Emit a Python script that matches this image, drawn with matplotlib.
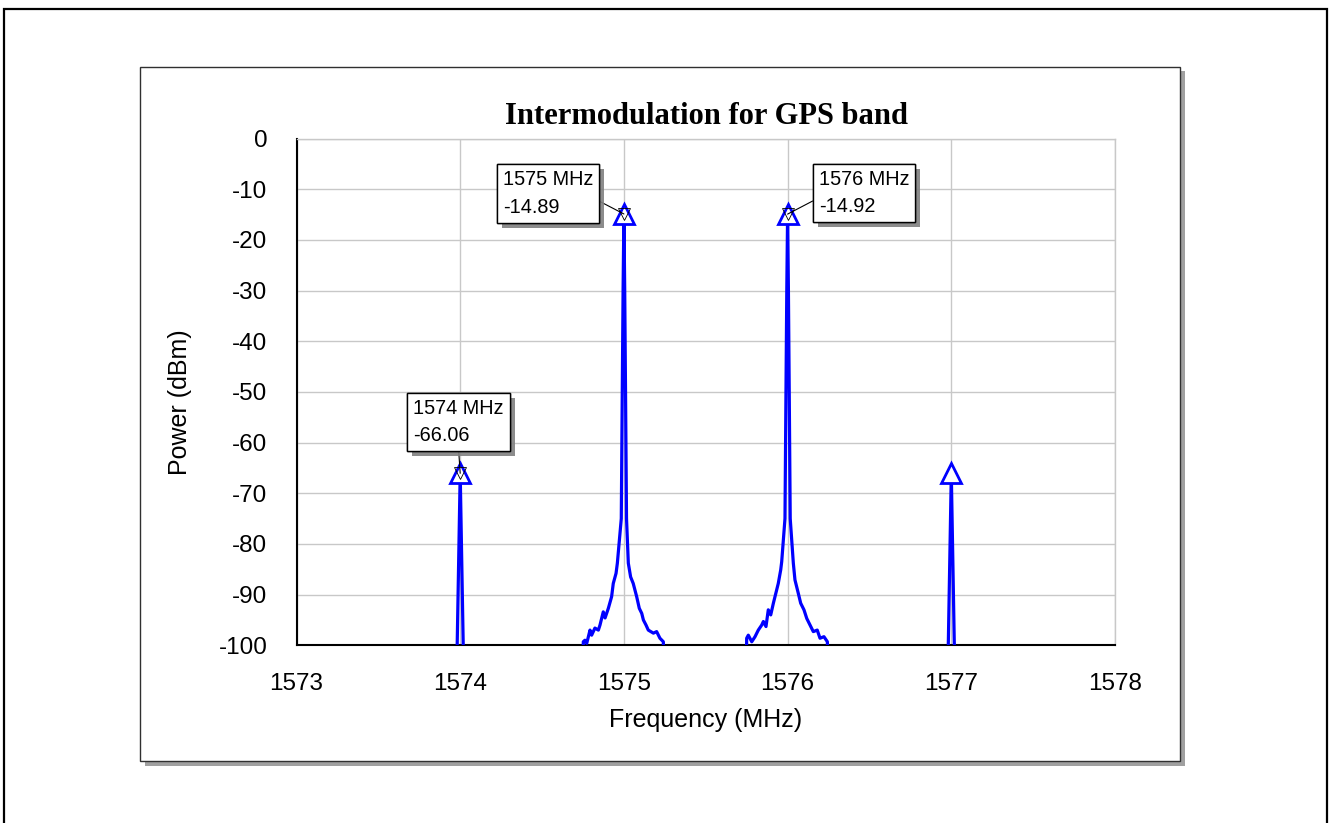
""" GPS band intermodulation spectrum """

import matplotlib.pyplot as plt
import matplotlib.patheffects as pe
from matplotlib.patches import Rectangle

# spectrum trace (MHz, dBm) - floor sits below the visible -100 dBm
freq = [1573.000, 1573.020, 1573.975, 1573.981, 1574.000, 1574.019, 1574.025,
        1574.740, 1574.752, 1574.762, 1574.773, 1574.793, 1574.803, 1574.823,
        1574.844, 1574.854, 1574.874, 1574.885, 1574.905, 1574.925, 1574.935,
        1574.952, 1574.960, 1574.984, 1574.990, 1574.995, 1575.000, 1575.005,
        1575.010, 1575.016, 1575.027, 1575.041, 1575.057, 1575.078, 1575.094,
        1575.109, 1575.119, 1575.135, 1575.149, 1575.180, 1575.200, 1575.220,
        1575.241, 1575.252,
        1575.738, 1575.750, 1575.760, 1575.781, 1575.801, 1575.821, 1575.842,
        1575.852, 1575.868, 1575.882, 1575.897, 1575.913, 1575.933, 1575.943,
        1575.958, 1575.964, 1575.984, 1575.990, 1575.995, 1576.000, 1576.005,
        1576.010, 1576.016, 1576.035, 1576.045, 1576.065, 1576.080, 1576.100,
        1576.117, 1576.137, 1576.157, 1576.181, 1576.198, 1576.222, 1576.243,
        1576.255,
        1576.975, 1576.981, 1577.000, 1577.019, 1577.025, 1577.980, 1578.000]
power = [-100.5, -140.0, -140.0, -101.0, -66.06, -101.0, -140.0,
         -140.0, -99.3, -99.0, -99.6, -97.0, -98.0, -96.6,
         -97.0, -96.0, -93.4, -94.6, -92.7, -90.4, -87.8,
         -85.8, -83.8, -75.0, -50.0, -30.0, -14.89, -30.0,
         -50.0, -75.0, -83.8, -86.5, -87.8, -90.4, -92.7,
         -93.7, -95.0, -96.0, -97.0, -97.6, -97.3, -98.6,
         -99.3, -140.0,
         -140.0, -98.6, -98.0, -99.3, -98.3, -97.0, -96.0,
         -95.3, -96.3, -93.0, -94.0, -91.7, -89.1, -87.8,
         -85.1, -83.5, -75.0, -50.0, -30.0, -14.92, -30.0,
         -50.0, -75.0, -83.8, -87.1, -89.7, -91.7, -93.0,
         -94.7, -96.0, -97.3, -97.0, -98.6, -98.3, -99.3,
         -140.0,
         -140.0, -101.0, -66.1, -101.0, -140.0, -140.0, -100.5]

# marker peaks
peak_freq = [1574, 1575, 1576, 1577]
peak_power = [-66.06, -14.89, -14.92, -66.1]

# labelled markers: (freq, power, text x, text y, line anchor on box)
label_freq = [1574, 1575, 1576]
label_power = [-66.06, -14.89, -14.92]
label_text = ['1574 MHz\n-66.06', '1575 MHz\n-14.89', '1576 MHz\n-14.92']
label_x = [1573.712, 1574.262, 1576.192]
label_y = [-51.4, -6.3, -6.2]
label_rel = [(0.5, 0.0), (1.0, 0.4), (0.0, 0.4)]

W, H = 1330, 823

plt.rcParams['font.family'] = ['Liberation Sans', 'DejaVu Sans']
plt.rcParams['axes.unicode_minus'] = False

fig = plt.figure(figsize=(W / 100, H / 100), dpi=100)
fig.patch.set_facecolor('white')

# outer frame
fig.add_artist(Rectangle((4 / W, -0.05), (1327 - 4) / W, 1.05 - 9 / H,
                         transform=fig.transFigure, fill=False,
                         ec='black', lw=1.6, zorder=-10))
# inner chart box with shadow
fig.add_artist(Rectangle((145 / W, 1 - 766 / H), (1185 - 145) / W, (766 - 71) / H,
                         transform=fig.transFigure, fc='#a0a0a0', ec='none',
                         zorder=-10))
fig.add_artist(Rectangle((140 / W, 1 - 761 / H), (1180 - 140) / W, (761 - 67) / H,
                         transform=fig.transFigure, fc='white', ec='#303030',
                         lw=1.0, zorder=-9))

ax = fig.add_axes([296.5 / W, 1 - 645.3 / H, 818.5 / W, 506.8 / H])
ax.set_facecolor('white')

ax.plot(freq, power, color='#0000ff', lw=2.3, zorder=3)
ax.plot(peak_freq, peak_power, ls='none', marker='^', ms=14, mfc='white',
        mec='#0000ff', mew=2.0, zorder=4)
ax.plot(label_freq, label_power, ls='none', marker='v', ms=9, mfc='none',
        mec='black', mew=0.6, zorder=5)

for f, p, t, tx, ty, rel in zip(label_freq, label_power, label_text,
                                label_x, label_y, label_rel):
    ann = ax.annotate(t, xy=(f, p), xytext=(tx, ty), ha='left', va='top',
                      fontsize=14.3, linespacing=1.55, zorder=6,
                      annotation_clip=False,
                      bbox=dict(boxstyle='square,pad=0.3', fc='white',
                                ec='black', lw=1.0),
                      arrowprops=dict(arrowstyle='-', color='black', lw=0.8,
                                      shrinkA=0, shrinkB=0, relpos=rel))
    ann.get_bbox_patch().set_path_effects(
        [pe.withSimplePatchShadow(offset=(3.6, -3.6), shadow_rgbFace='#808080',
                                  alpha=0.9), pe.Normal()])

ax.set_xlim(1573, 1578)
ax.set_ylim(-100, 0)
ax.set_xticks([1573, 1574, 1575, 1576, 1577, 1578])
ax.set_yticks(range(-100, 1, 10))
ax.grid(True, color='#c8c8c8', lw=1.0)
ax.set_axisbelow(True)
ax.tick_params(length=0, labelsize=17.5)
ax.tick_params(axis='y', pad=21)
ax.tick_params(axis='x', pad=20)

for side in ['left', 'bottom']:
    ax.spines[side].set_color('black')
    ax.spines[side].set_linewidth(1.5)
for side in ['top', 'right']:
    ax.spines[side].set_color('#c8c8c8')
    ax.spines[side].set_linewidth(1.0)

ax.set_xlabel('Frequency (MHz)', fontsize=18)
ax.xaxis.set_label_coords(0.5, (645.3 - 720) / 506.8)
ax.xaxis.label.set_va('center')
ax.set_ylabel('Power (dBm)', fontsize=18)
ax.yaxis.set_label_coords((180 - 296.5) / 818.5, (645.3 - 402) / 506.8)
ax.yaxis.label.set_va('center')

fig.text(706 / W, 1 - 116 / H, 'Intermodulation for GPS band', ha='center',
         va='center', fontsize=22, fontweight='bold', family='Liberation Serif')

fig.savefig('out.png', dpi=100)
